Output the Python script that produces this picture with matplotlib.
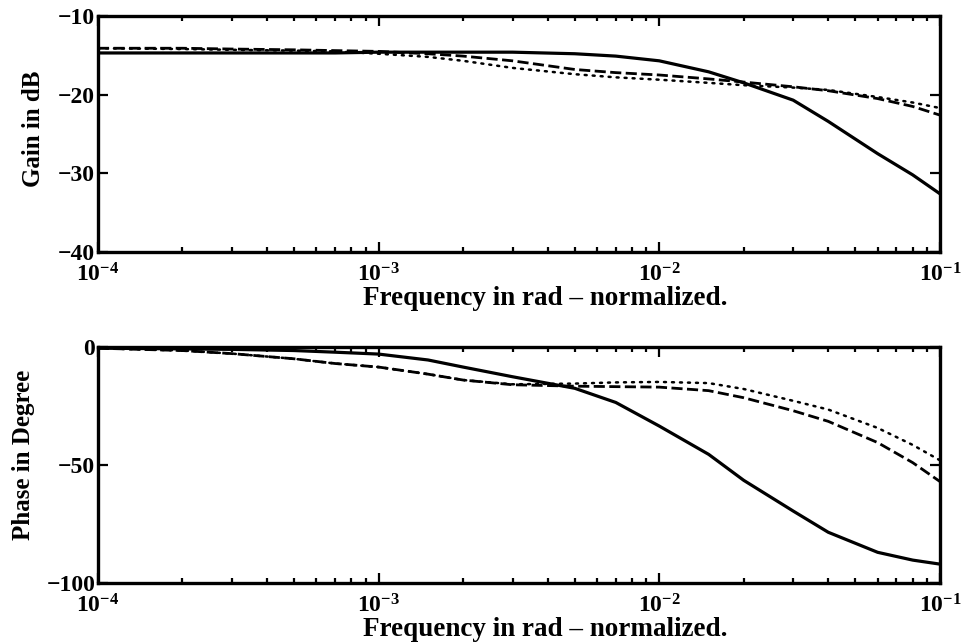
import matplotlib
matplotlib.use("Agg")
import matplotlib.pyplot as plt
from matplotlib.ticker import LogLocator, NullFormatter, FixedLocator

plt.rcParams['font.family'] = ['Liberation Serif', 'DejaVu Serif']
plt.rcParams['font.weight'] = 'bold'
plt.rcParams['mathtext.fontset'] = 'custom'
plt.rcParams['mathtext.rm'] = 'Liberation Serif:bold'
plt.rcParams['mathtext.bf'] = 'Liberation Serif:bold'
plt.rcParams['mathtext.it'] = 'Liberation Serif:bold'
plt.rcParams['axes.unicode_minus'] = True

freq = [1e-4, 2e-4, 3e-4, 5e-4, 7e-4, 1e-3, 1.5e-3, 2e-3, 3e-3, 5e-3, 7e-3,
        1e-2, 1.5e-2, 2e-2, 3e-2, 4e-2, 6e-2, 8e-2, 1e-1]

gain_solid = [-14.7, -14.7, -14.7, -14.7, -14.7, -14.6, -14.6, -14.6, -14.6, -14.8, -15.1,
              -15.7, -17.1, -18.5, -20.7, -23.4, -27.5, -30.2, -32.6]
gain_dashed = [-14.1, -14.1, -14.2, -14.3, -14.4, -14.5, -14.8, -15.1, -15.7, -16.8, -17.2,
               -17.5, -18.0, -18.4, -19.0, -19.5, -20.5, -21.5, -22.6]
gain_dotted = [-14.1, -14.2, -14.3, -14.4, -14.5, -14.8, -15.2, -15.7, -16.6, -17.4, -17.8,
               -18.1, -18.5, -18.8, -19.1, -19.4, -20.3, -21.0, -21.7]

phase_solid = [-0.5, -0.8, -1.0, -1.5, -2.2, -3.0, -5.5, -8.5, -12.6, -17.5, -23.5,
               -33.5, -45.5, -56.5, -69.5, -78.5, -87.0, -90.3, -92.0]
phase_dashed = [-0.5, -1.5, -2.8, -5.0, -7.0, -8.5, -11.5, -14.0, -16.0, -16.6, -16.8,
                -17.0, -18.5, -21.5, -27.0, -31.5, -40.5, -49.0, -57.0]
phase_dotted = [-0.5, -1.5, -2.8, -5.0, -7.0, -8.5, -11.5, -14.0, -15.8, -15.5, -15.0,
                -14.8, -15.3, -17.8, -22.8, -26.5, -34.3, -41.5, -48.0]

gain_ticks = [-10, -20, -30, -40]
phase_ticks = [0, -50, -100]
x_ticks = [1e-4, 1e-3, 1e-2, 1e-1]
x_ticklabels = [r'$10^{-4}$', r'$10^{-3}$', r'$10^{-2}$', r'$10^{-1}$']
xlabel = 'Frequency in rad \u2013 normalized.'

fig = plt.figure(figsize=(9.66, 6.42), dpi=100)
ax1 = fig.add_axes([0.1014, 0.6075, 0.8716, 0.3676])
ax2 = fig.add_axes([0.1014, 0.0919, 0.8716, 0.3676])

def style(ax, yticks, ylim):
    ax.set_xscale('log')
    ax.set_xlim(1e-4, 1e-1)
    ax.set_ylim(*ylim)
    ax.set_xticks(x_ticks)
    ax.set_xticklabels(x_ticklabels)
    ax.xaxis.set_minor_locator(LogLocator(base=10, subs=range(2, 10)))
    ax.xaxis.set_minor_formatter(NullFormatter())
    ax.yaxis.set_major_locator(FixedLocator(yticks))
    ax.set_yticklabels([str(t).replace('-', '\u2212') for t in yticks])
    ax.tick_params(which='both', direction='in', top=True, right=True,
                   width=1.6, labelsize=17)
    ax.tick_params(which='major', length=7)
    ax.tick_params(which='minor', length=3.5)
    ax.tick_params(axis='y', pad=2)
    ax.tick_params(axis='x', pad=8)
    for s in ax.spines.values():
        s.set_linewidth(2.4)
    for lbl in ax.get_xticklabels() + ax.get_yticklabels():
        lbl.set_fontweight('bold')

def draw(ax, x, ys):
    ax.plot(x, ys[0], color='black', lw=2.3, ls='-')
    ax.plot(x, ys[1], color='black', lw=2.0, ls=(0, (4, 1.6)))
    ax.plot(x, ys[2], color='black', lw=1.8, ls=(0, (0.8, 2.4)),
            dash_capstyle='round')

draw(ax1, freq, [gain_solid, gain_dashed, gain_dotted])
style(ax1, gain_ticks, (-40, -10))
ax1.set_ylabel('Gain in dB', fontsize=18, fontweight='bold', va='center')
ax1.yaxis.set_label_coords(-0.076, 0.521)
ax1.set_xlabel(xlabel, fontsize=19.5, fontweight='bold', va='baseline')
ax1.xaxis.set_label_coords(0.5315, -0.225)

draw(ax2, freq, [phase_solid, phase_dashed, phase_dotted])
style(ax2, phase_ticks, (-100, 0))
ax2.set_ylabel('Phase in Degree', fontsize=18, fontweight='bold', va='center')
ax2.yaxis.set_label_coords(-0.089, 0.542)
ax2.set_xlabel(xlabel, fontsize=19.5, fontweight='bold', va='baseline')
ax2.xaxis.set_label_coords(0.5315, -0.225)

fig.savefig('out.png', dpi=100, facecolor='white')
